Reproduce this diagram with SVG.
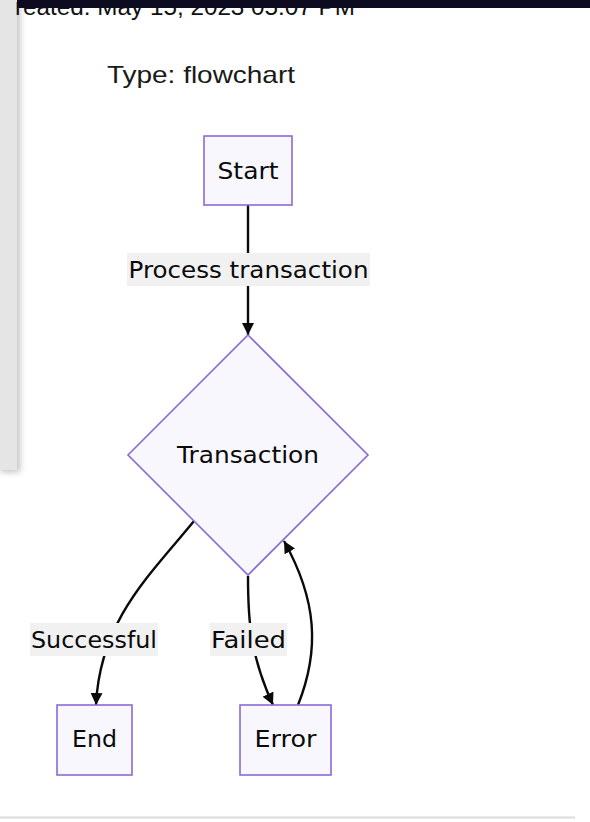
<svg xmlns="http://www.w3.org/2000/svg" width="590" height="822" viewBox="0 0 590 822">
<defs>
<style>
.node{fill:#f8f7fe;stroke:#8a6bd6;stroke-width:1.6}
.lbl{font-family:"DejaVu Sans","Liberation Sans",sans-serif;font-size:23px;fill:#0a0a0a;text-anchor:middle;dominant-baseline:central}
.lblbg{fill:#f1f1f1}
.edge{fill:none;stroke:#0a0a0a;stroke-width:2.4}
</style>
<marker id="arr" viewBox="0 0 10 10" refX="10" refY="5" markerWidth="5" markerHeight="5" orient="auto" markerUnits="strokeWidth">
<path d="M0,0 L10,5 L0,10 z" fill="#0a0a0a"/>
</marker>
<filter id="sh" x="-50%" y="-10%" width="200%" height="120%">
<feGaussianBlur stdDeviation="3"/>
</filter>
</defs>
<rect width="590" height="822" fill="#ffffff"/>
<!-- page chrome -->
<rect x="0" y="0" width="20" height="472" fill="#999" filter="url(#sh)" opacity="0.6"/>
<rect x="0" y="0" width="17" height="470" fill="#e5e5e5"/>
<text x="15" y="15" font-family="Liberation Sans, sans-serif" font-size="23" fill="#111" textLength="340" lengthAdjust="spacingAndGlyphs">reated: May 15, 2023 05:07 PM</text>
<rect x="17" y="0" width="573" height="8" fill="#0c0b1f"/>
<line x1="0" y1="817.5" x2="575" y2="817.5" stroke="#dcdcdc" stroke-width="2"/>
<text x="107" y="83" font-family="Liberation Sans, sans-serif" font-size="24" fill="#1a1a1a" textLength="188" lengthAdjust="spacingAndGlyphs">Type: flowchart</text>

<g id="edges">
<path class="edge" d="M248,205 L248,335" marker-end="url(#arr)"/>
<path class="edge" d="M194,521 C150,575 100,620 96,705" marker-end="url(#arr)"/>
<path class="edge" d="M248,576 C248,620 250,655 273,705" marker-end="url(#arr)"/>
<path class="edge" d="M298,705 C320,650 317,600 284,541" marker-end="url(#arr)"/>
<rect class="lblbg" x="127" y="253" width="243" height="33"/>
<text class="lbl" x="248.5" y="270" textLength="240" lengthAdjust="spacingAndGlyphs">Process transaction</text>
<rect class="lblbg" x="30" y="623" width="128" height="33"/>
<text class="lbl" x="94" y="640" textLength="126" lengthAdjust="spacingAndGlyphs">Successful</text>
<rect class="lblbg" x="210" y="623" width="77" height="33"/>
<text class="lbl" x="248.5" y="640" textLength="75" lengthAdjust="spacingAndGlyphs">Failed</text>
</g>

<g id="node-start">
<rect class="node" x="204" y="136" width="88" height="69"/>
<text class="lbl" x="248" y="171" textLength="61" lengthAdjust="spacingAndGlyphs">Start</text>
</g>
<g id="node-transaction">
<polygon class="node" points="248,335 368,455 248,575 128,455"/>
<text class="lbl" x="248" y="455" textLength="142" lengthAdjust="spacingAndGlyphs">Transaction</text>
</g>
<g id="node-end">
<rect class="node" x="57" y="705" width="75" height="70"/>
<text class="lbl" x="94.5" y="739" textLength="45" lengthAdjust="spacingAndGlyphs">End</text>
</g>
<g id="node-error">
<rect class="node" x="240" y="705" width="91" height="70"/>
<text class="lbl" x="285.5" y="739" textLength="62" lengthAdjust="spacingAndGlyphs">Error</text>
</g>
</svg>
